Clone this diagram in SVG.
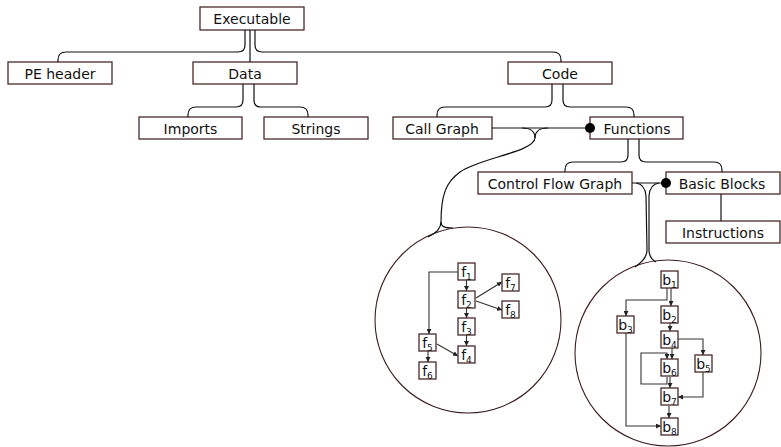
<svg xmlns="http://www.w3.org/2000/svg" width="781" height="447" viewBox="0 0 781 447">
<style>
.box{fill:#fff;stroke:#4a2a2a;stroke-width:1.3}
.t{font-family:"DejaVu Sans",sans-serif;font-size:14px;fill:#111;text-anchor:middle}
.c{fill:none;stroke:#111;stroke-width:1.2}
.sb{fill:#fff;stroke:#4a2a2a;stroke-width:1.3}
.st{font-family:"DejaVu Sans",sans-serif;font-size:14px;fill:#111;text-anchor:middle}
.e{fill:none;stroke:#333;stroke-width:1.1;marker-end:url(#a)}
.circ{fill:none;stroke:#3d1c1c;stroke-width:1.1}
</style>
<defs>
<marker id="a" viewBox="0 0 6 6" refX="6" refY="3" markerWidth="5" markerHeight="5" orient="auto" markerUnits="userSpaceOnUse"><path d="M0,0 L6,3 L0,6 z" fill="#222"/></marker>
</defs>
<g id="executable"><rect class="box" x="200" y="7" width="104" height="23"/><text class="t" x="252" y="24">Executable</text></g>
<g id="pe-header"><rect class="box" x="8" y="62" width="104" height="22"/><text class="t" x="60" y="79">PE header</text></g>
<g id="data"><rect class="box" x="193" y="62" width="104" height="22"/><text class="t" x="245" y="79">Data</text></g>
<g id="code"><rect class="box" x="508" y="62" width="104" height="22"/><text class="t" x="560" y="79">Code</text></g>
<g id="imports"><rect class="box" x="139" y="117" width="103" height="22"/><text class="t" x="190.5" y="134">Imports</text></g>
<g id="strings"><rect class="box" x="264" y="117" width="104" height="22"/><text class="t" x="316" y="134">Strings</text></g>
<g id="call-graph"><rect class="box" x="393" y="117" width="99" height="22"/><text class="t" x="442" y="134">Call Graph</text></g>
<g id="functions"><rect class="box" x="590" y="117" width="93" height="22"/><text class="t" x="637" y="134">Functions</text></g>
<g id="cfg"><rect class="box" x="478" y="172" width="154" height="22"/><text class="t" x="555" y="189">Control Flow Graph</text></g>
<g id="basic-blocks"><rect class="box" x="666" y="172" width="114" height="22"/><text class="t" x="722" y="189">Basic Blocks</text></g>
<g id="instructions"><rect class="box" x="666" y="221" width="114" height="22"/><text class="t" x="723" y="238">Instructions</text></g>
<g id="call-graph-example">
<circle class="circ" cx="468" cy="320" r="93"/>
<path class="e" d="M466.5 280 V291"/>
<path class="e" d="M466.5 308 V318"/>
<path class="e" d="M466.5 335 V346"/>
<path class="e" d="M458 272 H429 V334"/>
<path class="e" d="M476 298 L502 282"/>
<path class="e" d="M476 301 L502 310"/>
<path class="e" d="M437 344 L458 356"/>
<path class="e" d="M428 351 V362"/>
<rect class="sb" x="458" y="263" width="17" height="17"/><text class="st" x="466.5" y="277">f<tspan font-size="9" dy="3">1</tspan></text>
<rect class="sb" x="458" y="291" width="17" height="17"/><text class="st" x="466.5" y="305">f<tspan font-size="9" dy="3">2</tspan></text>
<rect class="sb" x="458" y="318" width="17" height="17"/><text class="st" x="466.5" y="332">f<tspan font-size="9" dy="3">3</tspan></text>
<rect class="sb" x="458" y="346" width="17" height="17"/><text class="st" x="466.5" y="360">f<tspan font-size="9" dy="3">4</tspan></text>
<rect class="sb" x="502" y="274" width="17" height="17"/><text class="st" x="510.5" y="288">f<tspan font-size="9" dy="3">7</tspan></text>
<rect class="sb" x="502" y="301" width="17" height="17"/><text class="st" x="510.5" y="315">f<tspan font-size="9" dy="3">8</tspan></text>
<rect class="sb" x="419" y="334" width="17" height="17"/><text class="st" x="427.5" y="348">f<tspan font-size="9" dy="3">5</tspan></text>
<rect class="sb" x="419" y="362" width="17" height="17"/><text class="st" x="427.5" y="376">f<tspan font-size="9" dy="3">6</tspan></text>
</g>
<g id="cfg-example">
<circle class="circ" cx="668" cy="353" r="93"/>
<path class="e" d="M667 288 V300 H626 V316"/>
<path class="e" d="M671 288 V306"/>
<path class="e" d="M670 323 V331"/>
<path class="e" d="M678 339 H703 V355"/>
<path class="e" d="M672 348 V359"/>
<path class="e" d="M667 377 V384 H641 V353 H667 V359"/>
<path class="e" d="M670 377 V388"/>
<path class="e" d="M703 372 V397 H678"/>
<path class="e" d="M669 406 V418"/>
<path class="e" d="M626 333 V426 H661"/>
<rect class="sb" x="661" y="271" width="17" height="17"/><text class="st" x="669.5" y="285">b<tspan font-size="9" dy="3">1</tspan></text>
<rect class="sb" x="661" y="306" width="17" height="17" stroke-width="1.8"/><text class="st" x="669.5" y="320">b<tspan font-size="9" dy="3">2</tspan></text>
<rect class="sb" x="617" y="316" width="17" height="17" stroke-width="1.8"/><text class="st" x="625.5" y="330">b<tspan font-size="9" dy="3">3</tspan></text>
<rect class="sb" x="661" y="331" width="17" height="17"/><text class="st" x="669.5" y="345">b<tspan font-size="9" dy="3">4</tspan></text>
<rect class="sb" x="695" y="355" width="17" height="17"/><text class="st" x="703.5" y="369">b<tspan font-size="9" dy="3">5</tspan></text>
<rect class="sb" x="661" y="359" width="17" height="17" stroke-width="1.8"/><text class="st" x="669.5" y="373">b<tspan font-size="9" dy="3">6</tspan></text>
<rect class="sb" x="661" y="388" width="17" height="17"/><text class="st" x="669.5" y="402">b<tspan font-size="9" dy="3">7</tspan></text>
<rect class="sb" x="661" y="418" width="17" height="17"/><text class="st" x="669.5" y="432">b<tspan font-size="9" dy="3">8</tspan></text>
</g>
<g id="connectors">
<path class="c" d="M245 30 V45 Q245 52 238 52 H66 Q58 52 58 60 V62"/>
<path class="c" d="M250 30 V62"/>
<path class="c" d="M255 30 V45 Q255 52 262 52 H553 Q561 52 561 60 V62"/>
<path class="c" d="M243 84 V100 Q243 107 236 107 H196 Q188 107 188 115 V117"/>
<path class="c" d="M254 84 V100 Q254 107 261 107 H300 Q308 107 308 115 V117"/>
<path class="c" d="M552 84 V100 Q552 107 545 107 H445 Q437 107 437 115 V117"/>
<path class="c" d="M563 84 V100 Q563 107 570 107 H626 Q634 107 634 115 V117"/>
<path class="c" d="M628 139 V155 Q628 162 621 162 H573 Q565 162 565 170 V172"/>
<path class="c" d="M639 139 V155 Q639 162 646 162 H714 Q722 162 722 170 V172"/>
<path class="c" d="M721 194 V221"/>
<path class="c" d="M492 128 H590"/>
<circle cx="590" cy="128" r="5" fill="#000"/>
<path class="c" d="M522 128 Q535 128 535 138"/>
<path class="c" d="M548 128 Q535 128 535 138"/>
<path class="c" d="M535 138 C534 152 480 158 460 172 C446 182 441 195 441 222 Q441 231 428 237"/>
<path class="c" d="M441 222 C441 227 445 228 453 228"/>
<path class="c" d="M632 183 H666"/>
<circle cx="666" cy="183" r="5" fill="#000"/>
<path class="c" d="M636 183 Q645 184 646 196 L647 250 Q647 259 635 267"/>
<path class="c" d="M659 183 Q650 184 649 196 L649 250 Q649 258 656 262"/>
</g>
</svg>
